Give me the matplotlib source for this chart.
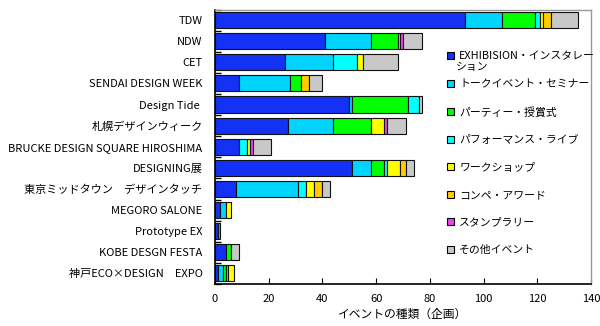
import matplotlib
matplotlib.use("Agg")
import matplotlib.pyplot as plt
from matplotlib.patches import Patch
import numpy as np

plt.rcParams["font.family"] = ["Noto Sans CJK JP", "DejaVu Sans"]

# events, top to bottom
events = [
    "TDW", "NDW", "CET", "SENDAI DESIGN WEEK", "Design Tide ",
    "札幌デザインウィーク", "BRUCKE DESIGN SQUARE HIROSHIMA", "DESIGNING展",
    "東京ミッドタウン　デザインタッチ", "MEGORO SALONE", "Prototype EX",
    "KOBE DESGN FESTA", "神戸ECO×DESIGN　EXPO",
]

# number of events per type
exhibition  = [93, 41, 26, 9, 50, 27, 9, 51, 8, 2, 1, 4, 1]
talk        = [14, 17, 18, 19, 1, 17, 0, 7, 23, 2, 0, 0, 2]
party       = [12, 10, 0, 4, 21, 14, 0, 5, 0, 0, 1, 2, 1]
performance = [2, 0, 9, 0, 4, 0, 3, 1, 3, 0, 0, 0, 1]
workshop    = [1, 0, 2, 0, 0, 5, 1, 5, 3, 2, 0, 0, 2]
competition = [3, 1, 0, 3, 0, 0, 0, 2, 3, 0, 0, 0, 0]
stamp       = [0, 1, 0, 0, 0, 1, 1, 0, 0, 0, 0, 0, 0]
other       = [10, 7, 13, 5, 1, 7, 7, 3, 3, 0, 0, 3, 0]

series_labels = [
    "EXHIBISION・インスタレー", "トークイベント・セミナー", "パーティー・授賞式",
    "パフォーマンス・ライブ", "ワークショップ", "コンペ・アワード",
    "スタンプラリー", "その他イベント",
]
series = [exhibition, talk, party, performance, workshop, competition, stamp, other]
colors = ["#1432F5", "#00D4FF", "#00FF00", "#00FFFF", "#FFFF00", "#FFCC00", "#EE44EE", "#C8C8C8"]

fig = plt.figure(figsize=(6.0, 3.26), dpi=100)
ax = fig.add_axes([215 / 600, 1 - 284 / 326, (591 - 215) / 600, (284 - 9.5) / 326])

y = np.arange(len(events))
left = np.zeros(len(events))
for vals, col in zip(series, colors):
    vals = np.array(vals, dtype=float)
    lw = np.where(vals > 0, 0.8, 0.0)  # no edge line for empty segments
    ax.barh(y, vals, left=left, height=0.76, color=col,
            edgecolor="#111111", linewidth=lw)
    left += vals

ax.set_xlim(0, 140)
ax.set_ylim(len(events) - 0.5, -0.5)
ax.set_xticks(np.arange(0, 141, 20))
ax.set_yticks(y)
ax.set_yticklabels(events)
ax.set_yticks(np.arange(-0.5, len(events), 1), minor=True)
ax.tick_params(axis="y", which="major", length=0, pad=9, labelsize=8)
ax.tick_params(axis="y", which="minor", direction="in", length=4, width=1, color="black")
ax.tick_params(axis="x", direction="in", length=4, pad=7, labelsize=8)
ax.set_xlabel("イベントの種類（企画）", fontsize=8.5, labelpad=3)

for s in ("left", "bottom"):
    ax.spines[s].set_color("black")
    ax.spines[s].set_linewidth(1.2)
for s in ("top", "right"):
    ax.spines[s].set_color("#999999")
    ax.spines[s].set_linewidth(1.0)

handles = [Patch(facecolor=c, edgecolor="black", linewidth=0.8, label=l)
           for c, l in zip(colors, series_labels)]
leg = ax.legend(handles=handles, loc="upper left",
                bbox_to_anchor=(442 / 600, 1 - 46 / 326), bbox_transform=fig.transFigure,
                frameon=False, fontsize=7.8, handlelength=0.6, handleheight=0.6,
                handletextpad=0.5, labelspacing=1.62, borderpad=0)
# wrapped tail of the first legend label
fig.text(456 / 600, 1 - 67 / 326, "ション", fontsize=7.8, va="center", ha="left")

fig.savefig("out.png", dpi=100)
